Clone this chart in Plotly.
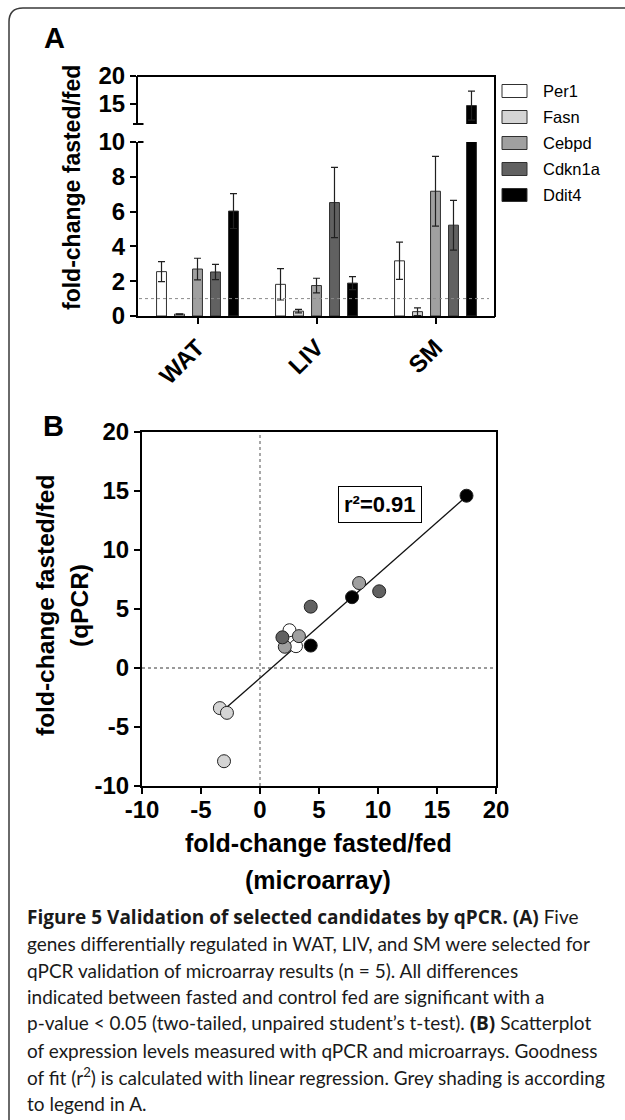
import plotly.graph_objects as go

W, H = 625, 1120


def px(x):
    return x / W


def py(y):
    return 1 - y / H


# ---------------- data ----------------
tissues = ["WAT", "LIV", "SM"]
genes = ["Per1", "Fasn", "Cebpd", "Cdkn1a", "Ddit4"]

# Panel A: qPCR fold-change fasted/fed (mean) and error
per1_qpcr = [2.55, 1.82, 3.17]
fasn_qpcr = [0.11, 0.28, 0.25]
cebpd_qpcr = [2.70, 1.75, 7.17]
cdkn1a_qpcr = [2.53, 6.52, 5.22]
ddit4_qpcr = [6.03, 1.89, 14.70]

per1_err = [0.58, 0.90, 1.07]
fasn_err = [0.02, 0.10, 0.22]
cebpd_err = [0.62, 0.42, 2.00]
cdkn1a_err = [0.44, 2.02, 1.43]
ddit4_err = [1.00, 0.37, 2.60]

# Panel B: microarray (x) vs qPCR (y) fold-change, per tissue WAT, LIV, SM
per1_array = [2.4, 3.05, 2.5]
per1_scatter = [2.6, 1.85, 3.2]
fasn_array = [-3.05, -3.4, -2.8]
fasn_scatter = [-7.9, -3.4, -3.8]
cebpd_array = [3.3, 2.1, 8.4]
cebpd_scatter = [2.7, 1.8, 7.2]
cdkn1a_array = [1.9, 10.1, 4.3]
cdkn1a_scatter = [2.6, 6.5, 5.2]
ddit4_array = [7.8, 4.3, 17.5]
ddit4_scatter = [6.0, 1.9, 14.6]

fit_slope = 0.88
fit_intercept = -0.85
r_squared = 0.91

lower_ticks = [0, 2, 4, 6, 8, 10]
upper_ticks = [15, 20]
b_ticks = [-10, -5, 0, 5, 10, 15, 20]
b_ticklabels = ["-10", "-5", "0", "5", "10", "15", "20"]

BSPAN = "<span style=\"font-family:'Open Sans';font-weight:bold;font-size:19px\">"
caption_lines = [
    BSPAN + "Figure 5 Validation of selected candidates by qPCR. (A)</span> Five",
    "genes differentially regulated in WAT, LIV, and SM were selected for",
    "qPCR validation of microarray results (n = 5). All differences",
    "indicated between fasted and control fed are significant with a",
    "p-value &lt; 0.05 (two-tailed, unpaired student’s t-test). " + BSPAN + "(B)</span> Scatterplot",
    "of expression levels measured with qPCR and microarrays. Goodness",
    "of fit (r<sup>2</sup>) is calculated with linear regression. Grey shading is according",
    "to legend in A.",
]

# ---------------- styles ----------------
gene_colors = ["#ffffff", "#d4d4d4", "#a0a0a0", "#616161", "#000000"]
qpcr = [per1_qpcr, fasn_qpcr, cebpd_qpcr, cdkn1a_qpcr, ddit4_qpcr]
errs = [per1_err, fasn_err, cebpd_err, cdkn1a_err, ddit4_err]
arr_x = [per1_array, fasn_array, cebpd_array, cdkn1a_array, ddit4_array]
arr_y = [per1_scatter, fasn_scatter, cebpd_scatter, cdkn1a_scatter, ddit4_scatter]

FONT = "Liberation Sans"
BOLD = dict(family=FONT, size=24, color="black", weight="bold")

fig = go.Figure()

# Panel A bars: lower segment (y) and upper segment (y3)
for yax in ["y", "y3"]:
    for g, vals, e, col in zip(genes, qpcr, errs, gene_colors):
        fig.add_trace(go.Bar(
            x=tissues, y=vals, name=g, xaxis="x", yaxis=yax,
            marker=dict(color=col, line=dict(color="#303030", width=1)),
            error_y=dict(type="data", array=e, visible=True, color="#202020",
                         thickness=1.2, width=3.5),
            showlegend=False, hoverinfo="skip",
        ))

# Panel B regression line
xmin = min(min(v) for v in arr_x)
xmax = max(max(v) for v in arr_x)
fig.add_trace(go.Scatter(
    x=[xmin, xmax], y=[fit_slope * xmin + fit_intercept, fit_slope * xmax + fit_intercept],
    mode="lines", line=dict(color="#111111", width=1.3), xaxis="x2", yaxis="y2",
    showlegend=False, hoverinfo="skip",
))

# Panel B points
for g, xs, ys, col in zip(genes, arr_x, arr_y, gene_colors):
    fig.add_trace(go.Scatter(
        x=xs, y=ys, mode="markers", name=g, xaxis="x2", yaxis="y2",
        marker=dict(size=13, color=col, line=dict(color="#222222", width=1)),
        showlegend=False,
    ))

axis_common = dict(showline=True, linecolor="black", linewidth=2, ticks="outside",
                   ticklen=6, tickwidth=2, tickcolor="black", showgrid=False,
                   zeroline=False, tickfont=BOLD, automargin=False)

fig.update_layout(
    template="none",
    width=W, height=H, autosize=False,
    margin=dict(l=0, r=0, t=0, b=0, pad=0),
    paper_bgcolor="white", plot_bgcolor="rgba(0,0,0,0)",
    barmode="group", bargap=0.244, bargroupgap=0.45,
    showlegend=False,
    xaxis=dict(domain=[px(138), px(495)], anchor="y", type="category",
               range=[-0.5, 2.5], tickangle=-45, **axis_common),
    yaxis=dict(domain=[py(316), py(142)], anchor="x", range=[0, 10],
               tickvals=lower_ticks, **axis_common),
    yaxis3=dict(domain=[py(124), py(76)], anchor="x", range=[11.4, 20],
                tickvals=upper_ticks, **axis_common),
    xaxis2=dict(domain=[px(142), px(496)], anchor="y2", range=[-10, 20],
                tickvals=b_ticks, ticktext=b_ticklabels, mirror=True,
                ticklabelstandoff=-5, **axis_common),
    yaxis2=dict(domain=[py(786), py(432)], anchor="x2", range=[-10, 20],
                tickvals=b_ticks, ticktext=b_ticklabels, mirror=True, **axis_common),
)

shapes = []
# outer rounded frame
shapes.append(dict(type="path", xref="paper", yref="paper",
                   path=f"M {px(9)},{py(1125)} L {px(9)},{py(22)} Q {px(9)},{py(8)} {px(23)},{py(8)} L {px(630)},{py(8)}",
                   line=dict(color="#3a3a3a", width=1.5)))
# panel A top and right box lines
shapes.append(dict(type="line", xref="paper", yref="paper", x0=px(137), x1=px(496),
                   y0=py(76), y1=py(76), line=dict(color="black", width=2)))
shapes.append(dict(type="line", xref="paper", yref="paper", x0=px(495), x1=px(495),
                   y0=py(76), y1=py(317), line=dict(color="black", width=2)))
# axis break caps
shapes.append(dict(type="line", xref="paper", yref="paper", x0=px(133), x1=px(143.5),
                   y0=py(124), y1=py(124), line=dict(color="black", width=2)))
shapes.append(dict(type="line", xref="paper", yref="paper", x0=px(138), x1=px(143.5),
                   y0=py(142), y1=py(142), line=dict(color="black", width=2)))
# dotted reference line at fold-change 1
shapes.append(dict(type="line", xref="paper", yref="y", x0=px(139), x1=px(489),
                   y0=1, y1=1, line=dict(color="#8a8a8a", width=1, dash="dot")))
# panel B zero lines
shapes.append(dict(type="line", xref="x2", yref="y2", x0=0, x1=0, y0=-10, y1=20,
                   line=dict(color="#7a7a7a", width=1.3, dash="dot"), layer="below"))
shapes.append(dict(type="line", xref="x2", yref="y2", x0=-10, x1=20, y0=0, y1=0,
                   line=dict(color="#7a7a7a", width=1.3, dash="dot"), layer="below"))
# legend swatches
legend_y = [91, 117, 143, 169, 195]
for yy, col in zip(legend_y, gene_colors):
    shapes.append(dict(type="rect", xref="paper", yref="paper", x0=px(502), x1=px(527),
                       y0=py(yy + 6.5), y1=py(yy - 6.5), fillcolor=col,
                       line=dict(color="#303030", width=1)))
fig.update_layout(shapes=shapes)

ann = []
for yy, g in zip(legend_y, genes):
    ann.append(dict(x=px(541), y=py(yy), xref="paper", yref="paper", text=g,
                    showarrow=False, xanchor="left", yanchor="middle",
                    font=dict(family=FONT, size=16.5, color="black")))
ann.append(dict(x=px(54), y=py(38), xref="paper", yref="paper", text="A", showarrow=False,
                xanchor="center", yanchor="middle",
                font=dict(family=FONT, size=29, color="black", weight="bold")))
ann.append(dict(x=px(53), y=py(426), xref="paper", yref="paper", text="B", showarrow=False,
                xanchor="center", yanchor="middle",
                font=dict(family=FONT, size=29, color="black", weight="bold")))
ann.append(dict(x=px(72), y=py(188), xref="paper", yref="paper", text="fold-change fasted/fed",
                showarrow=False, textangle=-90, xanchor="center", yanchor="middle",
                font=dict(family=FONT, size=23, color="black", weight="bold")))
ann.append(dict(x=px(45), y=py(606), xref="paper", yref="paper", text="fold-change fasted/fed",
                showarrow=False, textangle=-90, xanchor="center", yanchor="middle",
                font=dict(family=FONT, size=24.5, color="black", weight="bold")))
ann.append(dict(x=px(79), y=py(606), xref="paper", yref="paper", text="(qPCR)",
                showarrow=False, textangle=-90, xanchor="center", yanchor="middle",
                font=dict(family=FONT, size=24.5, color="black", weight="bold")))
ann.append(dict(x=px(318), y=py(843), xref="paper", yref="paper", text="fold-change fasted/fed",
                showarrow=False, xanchor="center", yanchor="middle",
                font=dict(family=FONT, size=25, color="black", weight="bold")))
ann.append(dict(x=px(318), y=py(880), xref="paper", yref="paper", text="(microarray)",
                showarrow=False, xanchor="center", yanchor="middle",
                font=dict(family=FONT, size=25, color="black", weight="bold")))
ann.append(dict(x=px(379.5), y=py(504.5), xref="paper", yref="paper",
                text=f"r²={r_squared:.2f}", showarrow=False, xanchor="center", yanchor="middle",
                bordercolor="black", borderwidth=1, borderpad=5, bgcolor="white",
                font=dict(family=FONT, size=22, color="black", weight="bold")))
for i, line in enumerate(caption_lines):
    ann.append(dict(x=px(25), y=py(917 + 26.6 * i), xref="paper", yref="paper", text=line,
                    showarrow=False, xanchor="left", yanchor="middle",
                    font=dict(family="Lato", size=19, color="#1a1a1a")))
fig.update_layout(annotations=ann)

fig.write_html("out.html", config={"displayModeBar": False},
               post_script="document.body.style.margin='0';document.body.style.overflow='hidden';")
